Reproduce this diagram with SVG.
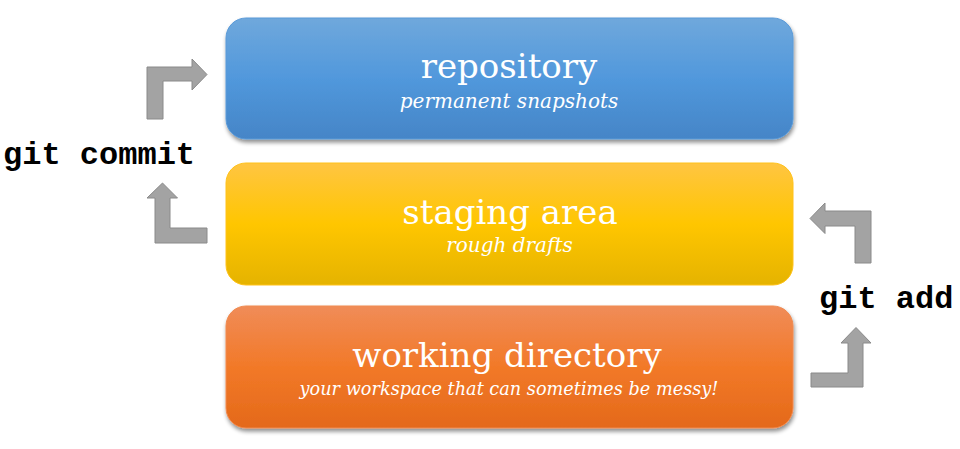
<svg xmlns="http://www.w3.org/2000/svg" width="960" height="449" viewBox="0 0 960 449">
<defs>
<linearGradient id="gBlue" x1="0" y1="0" x2="0" y2="1">
<stop offset="0" stop-color="#6FA8DC"/>
<stop offset="0.5" stop-color="#5198DC"/>
<stop offset="1" stop-color="#4585C7"/>
</linearGradient>
<linearGradient id="gYellow" x1="0" y1="0" x2="0" y2="1">
<stop offset="0" stop-color="#FFC542"/>
<stop offset="0.5" stop-color="#FFC600"/>
<stop offset="1" stop-color="#E5B300"/>
</linearGradient>
<linearGradient id="gOrange" x1="0" y1="0" x2="0" y2="1">
<stop offset="0" stop-color="#F08C58"/>
<stop offset="0.5" stop-color="#F27928"/>
<stop offset="1" stop-color="#E4691A"/>
</linearGradient>
<filter id="shadow" x="-5%" y="-10%" width="112%" height="130%">
<feGaussianBlur in="SourceAlpha" stdDeviation="2"/>
<feOffset dx="1" dy="3" result="b"/>
<feComponentTransfer><feFuncA type="linear" slope="0.45"/></feComponentTransfer>
<feMerge><feMergeNode/><feMergeNode in="SourceGraphic"/></feMerge>
</filter>
</defs>
<style>
.title{font-family:"DejaVu Serif","Liberation Serif",serif;font-size:34px;fill:#fff;text-anchor:middle}
.sub{font-family:"DejaVu Serif","Liberation Serif",serif;font-style:italic;font-size:20px;fill:#fff;text-anchor:middle}
.small{font-size:17.7px}
.cmd{font-family:"Liberation Mono","Courier New",monospace;font-weight:bold;font-size:32px;fill:#000}
.arrow{fill:#A3A3A3;stroke:#8A8A8A;stroke-width:1}
</style>
<rect width="960" height="449" fill="#fff"/>
<g id="repository">
<rect x="226" y="18" width="567" height="121" rx="20" fill="url(#gBlue)" stroke="#5A9AD8" stroke-width="1" filter="url(#shadow)"/>
<text class="title" x="509" y="78">repository</text>
<text class="sub" x="509" y="108">permanent snapshots</text>
</g>
<g id="staging">
<rect x="226" y="163" width="567" height="122" rx="20" fill="url(#gYellow)" stroke="#FFC21A" stroke-width="1"/>
<text class="title" x="510" y="224">staging area</text>
<text class="sub" x="509.5" y="252">rough drafts</text>
</g>
<g id="working">
<rect x="226" y="306" width="567" height="122" rx="20" fill="url(#gOrange)" stroke="#F08A50" stroke-width="1" filter="url(#shadow)"/>
<text class="title" x="507" y="367">working directory</text>
<text class="sub small" x="509" y="395">your workspace that can sometimes be messy!</text>
</g>
<g id="connectors">
<polygon class="arrow" points="147,119 147,67 192,67 192,59 207,74.5 192,90 192,81 163,81 163,119"/>
<polygon class="arrow" points="155,243 155,198 147,198 162.5,183 177.5,198 170,198 170,228 207,228 207,243"/>
<polygon class="arrow" points="810,218.5 825,203 825,211 871,211 871,263 855,263 855,226 825,226 825,233.5"/>
<polygon class="arrow" points="811,387 811,373 848,373 848,343 841,343 856,327.5 871,343 863,343 863,387"/>
</g>
<g id="labels">
<text class="cmd" x="3" y="164">git commit</text>
<text class="cmd" x="819" y="308">git add</text>
</g>
</svg>
